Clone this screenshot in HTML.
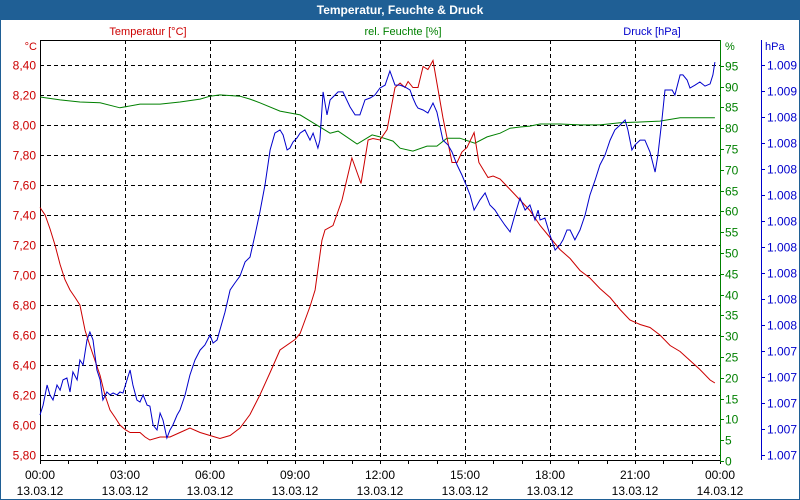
<!DOCTYPE html>
<html><head><meta charset="utf-8"><style>
html,body{margin:0;padding:0;background:#fff;}
svg{display:block;font-family:"Liberation Sans",sans-serif;}
</style></head><body>
<svg id="chart" width="800" height="500" viewBox="0 0 800 500">
<rect x="0.5" y="0.5" width="799" height="499" fill="#fff" stroke="#1f5f95"/>
<rect x="0" y="0" width="800" height="20" fill="#1f5f95"/>
<text x="400" y="14" text-anchor="middle" fill="#fff" font-size="12" font-weight="bold">Temperatur, Feuchte &amp; Druck</text>
<text x="148" y="35" text-anchor="middle" fill="#cc0000" font-size="11">Temperatur [°C]</text>
<text x="403" y="35" text-anchor="middle" fill="#008000" font-size="11">rel. Feuchte [%]</text>
<text x="652" y="35" text-anchor="middle" fill="#0000cc" font-size="11">Druck [hPa]</text>
<text x="37" y="50" text-anchor="end" fill="#cc0000" font-size="11">°C</text>
<text x="725" y="50" fill="#008000" font-size="11">%</text>
<text x="765" y="50" fill="#0000cc" font-size="11">hPa</text>
<g id="grid"></g>
<g id="axes"></g>
<g id="series"></g>
</svg>
<script>
const tempTicks=["8,40","8,20","8,00","7,80","7,60","7,40","7,20","7,00","6,80","6,60","6,40","6,20","6,00","5,80"];
const tempTickVals=[8.4,8.2,8.0,7.8,7.6,7.4,7.2,7.0,6.8,6.6,6.4,6.2,6.0,5.8];
const humTickVals=[95,90,85,80,75,70,65,60,55,50,45,40,35,30,25,20,15,10,5,0];
const presTicks=["1.009","1.009","1.008","1.008","1.008","1.008","1.008","1.008","1.008","1.008","1.008","1.007","1.007","1.007","1.007","1.007"];
const timeLabels=["00:00","03:00","06:00","09:00","12:00","15:00","18:00","21:00","00:00"];
const dateLabels=["13.03.12","13.03.12","13.03.12","13.03.12","13.03.12","13.03.12","13.03.12","13.03.12","14.03.12"];

const tempHours=[0,0.18,0.35,0.53,0.71,0.88,1.06,1.24,1.41,1.59,1.76,1.94,2.12,2.29,2.47,2.65,2.82,3.0,3.18,3.53,3.71,3.88,4.24,4.59,4.94,5.29,5.65,6.0,6.35,6.71,7.06,7.41,7.76,8.12,8.47,9.0,9.18,9.53,9.71,9.95,10.06,10.34,10.66,11.01,11.33,11.58,11.75,12.0,12.25,12.53,12.71,12.88,12.99,13.16,13.34,13.52,13.69,13.87,14.01,14.22,14.54,14.72,14.89,15.07,15.32,15.49,15.81,15.99,16.24,16.59,16.94,17.29,17.65,18.0,18.35,18.71,19.06,19.41,19.76,20.12,20.47,20.82,21.18,21.53,21.88,22.24,22.59,22.94,23.29,23.65,23.82];
const tempValues=[7.45,7.40,7.31,7.20,7.07,6.97,6.90,6.85,6.80,6.63,6.53,6.43,6.33,6.20,6.10,6.05,6.00,5.97,5.95,5.95,5.92,5.90,5.92,5.92,5.95,5.98,5.95,5.93,5.91,5.93,5.98,6.07,6.20,6.35,6.50,6.57,6.61,6.79,6.90,7.23,7.30,7.33,7.50,7.78,7.61,7.90,7.91,7.90,7.97,8.25,8.28,8.25,8.29,8.25,8.25,8.39,8.37,8.43,8.28,8.05,7.75,7.75,7.82,7.85,7.95,7.75,7.65,7.66,7.64,7.57,7.50,7.43,7.33,7.25,7.17,7.11,7.03,6.98,6.91,6.85,6.77,6.70,6.67,6.65,6.60,6.53,6.49,6.43,6.37,6.30,6.28];

const humHours=[0,0.71,1.41,2.12,2.82,3.53,4.24,4.94,5.65,6.0,6.35,7.06,7.41,7.76,8.47,9.18,9.64,10.24,10.52,11.19,11.72,12.0,12.46,12.71,13.16,13.66,14.01,14.36,14.82,15.35,15.78,16.24,16.59,16.94,17.29,17.65,18.35,19.06,19.76,20.47,21.18,21.88,22.59,23.29,23.82];
const humValues=[87.5,86.8,86.3,86.1,84.9,85.8,85.8,86.3,87.0,87.7,88.0,87.7,87.0,86.1,84.1,83.2,81.3,78.8,79.3,76.2,78.4,77.9,76.9,75.2,74.5,75.7,75.7,77.6,77.6,76.4,77.9,78.8,80.0,80.3,80.5,81.0,81.0,80.8,80.8,81.3,81.5,81.7,82.5,82.5,82.5];

const presHours=[0,0.11,0.25,0.35,0.46,0.60,0.71,0.81,0.95,1.06,1.16,1.31,1.41,1.52,1.66,1.76,1.87,2.01,2.12,2.22,2.36,2.47,2.58,2.72,2.82,2.93,3.07,3.18,3.28,3.42,3.53,3.64,3.78,3.88,3.99,4.13,4.24,4.34,4.48,4.59,4.69,4.84,4.94,5.12,5.29,5.47,5.65,5.82,6.00,6.11,6.25,6.35,6.53,6.71,6.88,7.06,7.24,7.41,7.59,7.76,7.94,8.12,8.29,8.47,8.58,8.72,8.82,8.93,9.07,9.18,9.35,9.53,9.64,9.81,9.88,9.99,10.13,10.24,10.34,10.52,10.69,10.94,11.12,11.29,11.47,11.65,11.82,12.00,12.18,12.35,12.53,12.71,12.88,13.06,13.16,13.27,13.34,13.52,13.69,13.87,14.01,14.22,14.40,14.54,14.72,14.89,15.04,15.18,15.32,15.53,15.71,15.88,16.06,16.24,16.41,16.59,16.76,16.94,17.12,17.29,17.47,17.58,17.65,17.82,18.00,18.18,18.35,18.46,18.60,18.71,18.88,19.06,19.24,19.41,19.59,19.76,19.94,20.12,20.29,20.47,20.65,20.75,20.89,21.00,21.18,21.35,21.53,21.71,21.81,21.95,22.06,22.16,22.31,22.41,22.59,22.69,22.84,22.94,23.12,23.29,23.47,23.65,23.75,23.82];
const presValues=[1007.205,1007.256,1007.359,1007.308,1007.282,1007.359,1007.333,1007.385,1007.395,1007.323,1007.426,1007.385,1007.487,1007.462,1007.590,1007.631,1007.590,1007.436,1007.385,1007.282,1007.323,1007.308,1007.318,1007.308,1007.323,1007.318,1007.385,1007.436,1007.359,1007.282,1007.272,1007.308,1007.256,1007.251,1007.154,1007.128,1007.215,1007.179,1007.087,1007.128,1007.154,1007.205,1007.231,1007.308,1007.410,1007.487,1007.538,1007.564,1007.615,1007.574,1007.590,1007.641,1007.733,1007.846,1007.882,1007.918,1007.990,1008.015,1008.128,1008.246,1008.385,1008.564,1008.651,1008.667,1008.641,1008.564,1008.574,1008.605,1008.626,1008.651,1008.667,1008.615,1008.651,1008.574,1008.615,1008.862,1008.744,1008.821,1008.836,1008.862,1008.862,1008.785,1008.744,1008.744,1008.821,1008.831,1008.846,1008.882,1008.897,1008.969,1008.897,1008.897,1008.887,1008.872,1008.831,1008.795,1008.779,1008.769,1008.754,1008.805,1008.759,1008.615,1008.590,1008.554,1008.487,1008.436,1008.385,1008.333,1008.256,1008.308,1008.344,1008.282,1008.256,1008.215,1008.179,1008.144,1008.231,1008.318,1008.256,1008.282,1008.205,1008.256,1008.205,1008.215,1008.128,1008.051,1008.077,1008.103,1008.154,1008.154,1008.103,1008.154,1008.231,1008.333,1008.410,1008.487,1008.538,1008.615,1008.667,1008.692,1008.718,1008.667,1008.564,1008.590,1008.615,1008.615,1008.554,1008.451,1008.538,1008.718,1008.872,1008.872,1008.872,1008.846,1008.949,1008.949,1008.923,1008.882,1008.897,1008.913,1008.892,1008.903,1008.949,1009.015];

const NS="http://www.w3.org/2000/svg";
const L=40,R=720,T=40,B=460;
function xScale(h){return L+h*(R-L)/24;}
function yTemp(t){return 65+(8.4-t)*150;}
function yHum(v){return 461-v*4.16;}
function yPres(p){return 455-(p-1007)*195;}
function mk(tag,attrs,parent){const e=document.createElementNS(NS,tag);for(const k in attrs)e.setAttribute(k,attrs[k]);parent.appendChild(e);return e;}
const grid=document.getElementById('grid'),axes=document.getElementById('axes'),series=document.getElementById('series');

tempTickVals.forEach((v,i)=>{
  const y=Math.round(yTemp(v))+0.5;
  const g=mk('line',{x1:L,x2:R,y1:y,y2:y,stroke:'#000','stroke-dasharray':'4,3','stroke-width':1},grid);
  
  
  const t=mk('text',{x:36,y:y+4,'text-anchor':'end',fill:'#cc0000','font-size':12},axes);
  t.textContent=tempTicks[i];
  
  
});
for(let h=3;h<24;h+=3){
  const x=Math.round(xScale(h))+0.5;
  const g=mk('line',{x1:x,x2:x,y1:T,y2:B,stroke:'#000','stroke-dasharray':'4,3','stroke-width':1},grid);
  
  
}
for(let h=0;h<=24;h++){
  const x=Math.round(xScale(h))+0.5;
  const tk=mk('line',{x1:x,x2:x,y1:B,y2:B+4,stroke:'#000'},axes);
  
  
}
timeLabels.forEach((s,i)=>{
  const x=xScale(i*3);
  const t=mk('text',{x:x,y:479,'text-anchor':'middle',fill:'#000','font-size':12},axes);
  t.textContent=s;
  
  
  const d=mk('text',{x:x,y:495,'text-anchor':'middle',fill:'#000','font-size':12},axes);
  d.textContent=dateLabels[i];
  
  
});
humTickVals.forEach(v=>{
  const y=Math.round(yHum(v))+0.5;
  const tk=mk('line',{x1:R,x2:R+4,y1:y,y2:y,stroke:'#008000'},axes);
  
  
  const t=mk('text',{x:725,y:y+4,fill:'#008000','font-size':12},axes);
  t.textContent=String(v);
  
  
});
presTicks.forEach((s,i)=>{
  const y=Math.round(65+i*26)+0.5;
  const tk=mk('line',{x1:761,x2:765,y1:y,y2:y,stroke:'#0000cc'},axes);
  
  
  const t=mk('text',{x:767,y:y+4,fill:'#0000cc','font-size':12},axes);
  t.textContent=s;
  
  
});
let a;
a=mk('line',{x1:L,x2:R,y1:T+0.5,y2:T+0.5,stroke:'#000'},axes);

a=mk('line',{x1:L+0.5,x2:L+0.5,y1:T,y2:B,stroke:'#000'},axes);

a=mk('line',{x1:L,x2:R,y1:B+0.5,y2:B+0.5,stroke:'#000'},axes);

a=mk('line',{x1:R+0.5,x2:R+0.5,y1:T,y2:B+1,stroke:'#008000'},axes);

a=mk('line',{x1:761.5,x2:761.5,y1:T,y2:B,stroke:'#0000cc'},axes);


function line(hs,vs,yf,color,name){
  const pts=hs.map((h,i)=>xScale(h).toFixed(1)+','+yf(vs[i]).toFixed(1)).join(' ');
  const p=mk('polyline',{points:pts,fill:'none',stroke:color,'stroke-width':1},series);
  
  
}
line(humHours,humValues,yHum,'#008000','humidity-line');
line(tempHours,tempValues,yTemp,'#cc0000','temperature-line');
line(presHours,presValues,yPres,'#0000cc','pressure-line');
</script>
</body></html>
